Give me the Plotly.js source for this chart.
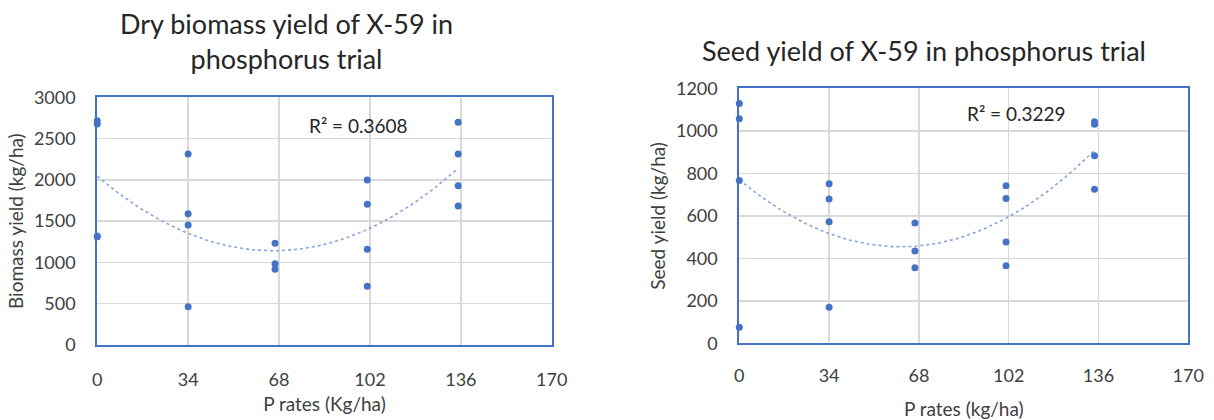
<!DOCTYPE html>
<html>
<head>
<meta charset="utf-8">
<script src="https://cdn.plot.ly/plotly-3.0.1.min.js"></script>
<style>
  html, body { margin: 0; padding: 0; background: #fff; }
  #chart { width: 1214px; height: 420px; }
</style>
</head>
<body>
<div id="chart"></div>
<script>
// ---- Data (4 replicates per rate, some dots overlap) ----
const biomassRate  = [0, 0, 0, 0, 34, 34, 34, 34, 66.5, 66.5, 66.5, 101, 101, 101, 101, 135, 135, 135, 135];
const biomassYield = [2717, 2676, 1320, 1310, 2313, 1590, 1453, 464, 1232, 985, 917, 1998, 1704, 1159, 711, 2697, 2313, 1929, 1683];

const seedRate  = [0, 0, 0, 0, 34, 34, 34, 34, 66.5, 66.5, 66.5, 101, 101, 101, 101, 134.5, 134.5, 134.5, 134.5];
const seedYield = [1129, 1057, 767, 76, 751, 680, 573, 170, 567, 435, 356, 742, 682, 477, 365, 1043, 1032, 883, 726];

const xTicks       = [0, 34, 68, 102, 136, 170];
const biomassTicks = [0, 500, 1000, 1500, 2000, 2500, 3000];
const seedTicks    = [0, 200, 400, 600, 800, 1000, 1200];

const biomassTitle = 'Dry biomass yield of X-59 in<br>phosphorus trial';
const seedTitle    = 'Seed yield of X-59 in phosphorus trial';
const biomassR2    = 'R² = 0.3608';
const seedR2       = 'R² = 0.3229';

// ---- Quadratic least-squares trendline (as a spreadsheet's polynomial trendline) ----
function polyfit2(xs, ys) {
  let n = xs.length, sx = 0, sx2 = 0, sx3 = 0, sx4 = 0, sy = 0, sxy = 0, sx2y = 0;
  for (let i = 0; i < n; i++) {
    const x = xs[i], y = ys[i];
    sx += x; sx2 += x * x; sx3 += x * x * x; sx4 += x * x * x * x;
    sy += y; sxy += x * y; sx2y += x * x * y;
  }
  const A = [[n, sx, sx2, sy], [sx, sx2, sx3, sxy], [sx2, sx3, sx4, sx2y]];
  for (let c = 0; c < 3; c++) {
    for (let r = c + 1; r < 3; r++) {
      const f = A[r][c] / A[c][c];
      for (let k = c; k < 4; k++) A[r][k] -= f * A[c][k];
    }
  }
  const coef = [0, 0, 0];
  for (let r = 2; r >= 0; r--) {
    let s = A[r][3];
    for (let k = r + 1; k < 3; k++) s -= A[r][k] * coef[k];
    coef[r] = s / A[r][r];
  }
  return coef; // a0 + a1 x + a2 x^2
}
function trendCurve(xs, ys) {
  const c = polyfit2(xs, ys);
  const lo = Math.min(...xs), hi = Math.max(...xs);
  const tx = [], ty = [];
  for (let i = 0; i <= 80; i++) {
    const x = lo + (hi - lo) * i / 80;
    tx.push(x); ty.push(c[0] + c[1] * x + c[2] * x * x);
  }
  return { x: tx, y: ty };
}

const FONT = 'Lato, "Open Sans", sans-serif';
const BLUE = '#4472c4';
const tBio = trendCurve(biomassRate, biomassYield);
const tSeed = trendCurve(seedRate, seedYield);

const traces = [
  { type: 'scatter', mode: 'lines', x: tBio.x, y: tBio.y, xaxis: 'x', yaxis: 'y',
    line: { color: '#86a4dc', width: 1.6, dash: 'dot' }, hoverinfo: 'skip', showlegend: false },
  { type: 'scatter', mode: 'markers', x: biomassRate, y: biomassYield, xaxis: 'x', yaxis: 'y',
    marker: { color: BLUE, size: 7 }, showlegend: false, cliponaxis: false },
  { type: 'scatter', mode: 'lines', x: tSeed.x, y: tSeed.y, xaxis: 'x2', yaxis: 'y2',
    line: { color: '#86a4dc', width: 1.6, dash: 'dot' }, hoverinfo: 'skip', showlegend: false },
  { type: 'scatter', mode: 'markers', x: seedRate, y: seedYield, xaxis: 'x2', yaxis: 'y2',
    marker: { color: BLUE, size: 7 }, showlegend: false, cliponaxis: false }
];

function xAxis(domain, anchor, title, standoff, tls) {
  return {
    domain: domain, anchor: anchor, range: [0, 170], tickvals: xTicks, ticktext: xTicks.map(String),
    showgrid: true, gridcolor: '#d9d9d9', gridwidth: 1.5, zeroline: false,
    showline: true, mirror: true, linecolor: BLUE, linewidth: 2, ticks: '',
    ticklabelstandoff: tls,
    tickfont: { family: FONT, size: 18, color: '#404040' },
    title: { text: title, standoff: standoff, font: { family: FONT, size: 19, color: '#404040' } },
    automargin: false, fixedrange: true
  };
}
function yAxis(domain, anchor, range, ticks, title) {
  return {
    domain: domain, anchor: anchor, range: range, tickvals: ticks, ticktext: ticks.map(String),
    showgrid: true, gridcolor: '#d9d9d9', gridwidth: 1.5, zeroline: false,
    showline: true, mirror: true, linecolor: BLUE, linewidth: 2, ticks: '',
    ticklabelstandoff: 16,
    tickfont: { family: FONT, size: 18, color: '#404040' },
    title: { text: title, standoff: 5, font: { family: FONT, size: 19, color: '#404040' } },
    automargin: false, fixedrange: true
  };
}

const layout = {
  width: 1214, height: 420,
  margin: { l: 0, r: 0, t: 0, b: 0 },
  paper_bgcolor: '#ffffff', plot_bgcolor: '#ffffff',
  showlegend: false,
  font: { family: FONT, color: '#404040' },
  xaxis:  xAxis([0.0801, 0.4545], 'y',  'P rates (Kg/ha)', 9, 17),
  yaxis:  yAxis([0.1786, 0.7683], 'x',  [0, 3000], biomassTicks, 'Biomass yield (kg/ha)'),
  xaxis2: xAxis([0.6090, 0.9788], 'y2', 'P rates (kg/ha)', 20, 15),
  yaxis2: yAxis([0.1826, 0.7893], 'x2', [0, 1200], seedTicks, 'Seed yield (kg/ha)'),
  annotations: [
    { text: biomassTitle, xref: 'paper', yref: 'paper', x: 286 / 1214, y: 1 - 41.5 / 420,
      xanchor: 'center', yanchor: 'middle', showarrow: false,
      font: { family: FONT, size: 27, color: '#262626' } },
    { text: seedTitle, xref: 'paper', yref: 'paper', x: 924 / 1214, y: 1 - 50 / 420,
      xanchor: 'center', yanchor: 'middle', showarrow: false,
      font: { family: FONT, size: 27, color: '#262626' } },
    { text: biomassR2, xref: 'x', yref: 'y', x: 97.9, y: 2656, showarrow: false,
      xanchor: 'center', yanchor: 'middle', font: { family: FONT, size: 19, color: '#262626' } },
    { text: seedR2, xref: 'x2', yref: 'y2', x: 104.9, y: 1080, showarrow: false,
      xanchor: 'center', yanchor: 'middle', font: { family: FONT, size: 19, color: '#262626' } }
  ]
};

Plotly.newPlot('chart', traces, layout, { displayModeBar: false, staticPlot: true });
</script>
</body>
</html>
